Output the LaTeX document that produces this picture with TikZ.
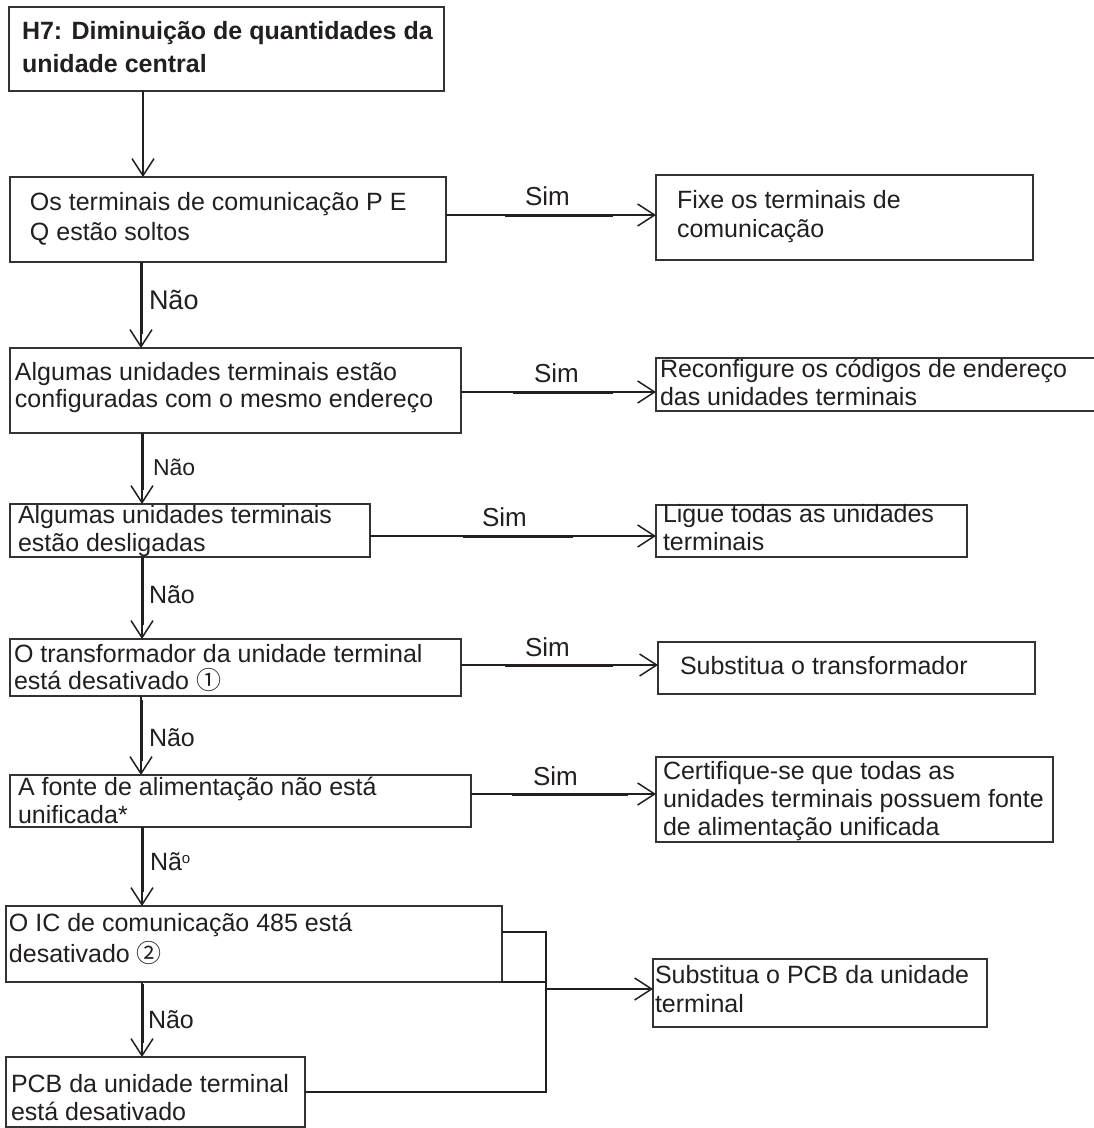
\documentclass[tikz,border=0pt]{standalone}
\usepackage{fontspec}
\setmainfont{Liberation Sans}
\newfontfamily\cjkf{Noto Sans CJK SC}
\usetikzlibrary{arrows.meta}
\definecolor{ink}{HTML}{231F20}
\definecolor{edgec}{HTML}{333333}
\tikzset{
 box/.style={draw=edgec, line width=1.4pt, rectangle, inner sep=0pt, outer sep=0pt, anchor=north west},
 txt/.style={anchor=base west, inner sep=0pt, outer sep=0pt, text=ink, font=\fontsize{25}{29}\selectfont},
 btxt/.style={anchor=base west, inner sep=0pt, outer sep=0pt, text=ink, font=\fontsize{25}{29}\selectfont\bfseries},
 conn/.style={draw=ink, line width=1.5pt, -{Straight Barb[length=17pt,width=22pt,line width=1.5pt]}},
 plainline/.style={draw=ink, line width=1.5pt},
 heavy/.style={draw=ink, line width=3pt},
 lbl/.style={anchor=west, inner sep=0pt, outer sep=0pt, text=ink, font=\fontsize{25}{29}\selectfont},
 simlbl/.style={anchor=west, inner sep=0pt, outer sep=0pt, text=ink, font=\fontsize{26}{30}\selectfont},
}
\newcommand\mkbox[5]{\node[box, minimum width={(#4-#2)*1pt}, minimum height={(#5-#3)*1pt}] (#1) at (#2,#3) {};}
\begin{document}
\begin{tikzpicture}[x=1pt,y=-1pt]
\useasboundingbox (0,0) rectangle (1094,1128);
\fill[white] (0,0) rectangle (1094,1128);

% left column boxes
\mkbox{B1}{9}{7}{444}{91}
\mkbox{B2}{10}{177}{446}{262}
\mkbox{B3}{10}{348}{461}{433}
\mkbox{B4}{10}{504}{370}{557}
\mkbox{B5}{10}{639}{461}{696}
\mkbox{B6}{10}{775}{471}{827}
\mkbox{B7}{6}{906}{502}{982}
\mkbox{B8}{6}{1057}{305}{1127}
% right column boxes
\mkbox{R1}{656}{175}{1033}{260}
\mkbox{R2}{656}{358}{1097}{411}
\mkbox{R3}{656}{505}{967}{557}
\mkbox{R4}{658}{642}{1035}{694}
\mkbox{R5}{656}{757}{1053}{842}
\mkbox{R6}{653}{959}{987}{1027}

% texts
\node[btxt] (B1a) at (22,39) {H7: Diminuição de quantidades da};
\node[btxt] (B1b) at (22,72) {unidade central};
\node[txt] (B2a) at (30,210) {Os terminais de comunicação P E};
\node[txt] (B2b) at (30,240) {Q estão soltos};
\node[txt] (B3a) at (15,380) {Algumas unidades terminais estão};
\node[txt] (B3b) at (15,407) {configuradas com o mesmo endereço};
\node[txt] (B4a) at (18,523) {Algumas unidades terminais};
\node[txt] (B4b) at (18,551) {estão desligadas};
\node[txt] (B5a) at (14,662) {O transformador da unidade terminal};
\node[txt] (B5b) at (14,689) {está desativado {\cjkf ①}};
\node[txt] (B6a) at (18,795) {A fonte de alimentação não está};
\node[txt] (B6b) at (18,823) {unificada*};
\node[txt] (B7a) at (9,931) {O IC de comunicação 485 está};
\node[txt] (B7b) at (9,962) {desativado {\cjkf ②}};
\node[txt] (B8a) at (11,1092) {PCB da unidade terminal};
\node[txt] (B8b) at (11,1120) {está desativado};

\node[txt] (R1a) at (677,208) {Fixe os terminais de};
\node[txt] (R1b) at (677,237) {comunicação};
\node[txt] (R2a) at (660,377) {Reconfigure os códigos de endereço};
\node[txt] (R2b) at (660,405) {das unidades terminais};
\node[txt] (R3a) at (663,522) {Ligue todas as unidades};
\node[txt] (R3b) at (663,550) {terminais};
\node[txt] (R4a) at (680,674) {Substitua o transformador};
\node[txt] (R5a) at (663,779) {Certifique-se que todas as};
\node[txt] (R5b) at (663,807) {unidades terminais possuem fonte};
\node[txt] (R5c) at (663,835) {de alimentação unificada};
\node[txt] (R6a) at (655,983) {Substitua o PCB da unidade};
\node[txt] (R6b) at (655,1012) {terminal};

% helper coordinates
\coordinate (v0) at (143,0);
\coordinate (v1) at (141,0);
\coordinate (v2) at (142,0);
\coordinate (h1) at (0,215);
\coordinate (h2) at (0,392);
\coordinate (h3) at (0,536);
\coordinate (h4) at (0,665);
\coordinate (h5) at (0,794);
\coordinate (h7) at (0,932);
\coordinate (j1) at (546,932);
\coordinate (j2) at (546,1092);
\coordinate (j3) at (546,989);

% vertical flow
\draw[conn] (B1.south -| v0) -- (B2.north -| v0);
\draw[heavy] (141,262) -- (141,334);
\draw[conn] (B2.south -| v1) -- (B3.north -| v1);
\draw[heavy] (142,433) -- (142,490);
\draw[conn] (B3.south -| v2) -- (B4.north -| v2);
\draw[heavy] (142,557) -- (142,625);
\draw[conn] (B4.south -| v2) -- (B5.north -| v2);
\draw[heavy] (141,700) -- (141,761);
\draw[conn] (B5.south -| v1) -- (B6.north -| v1);
\draw[heavy] (142,827) -- (142,892);
\draw[conn] (B6.south -| v2) -- (B7.north -| v2);
\draw[heavy] (142,984) -- (142,1043);
\draw[conn] (B7.south -| v2) -- (B8.north -| v2);

\node[lbl, font=\fontsize{27}{31}\selectfont] (N1) at (149,300) {Não};
\node[lbl, font=\fontsize{23}{27}\selectfont] (N2) at (153,467) {Não};
\node[lbl] (N3) at (149,595) {Não};
\node[lbl] (N4) at (149,738) {Não};
\node[lbl] (N5) at (150,862) {Nã\raisebox{7pt}{\fontsize{15}{15}\selectfont o}};
\node[lbl] (N6) at (148,1020) {Não};

% yes branches
\draw[conn] (B2.east |- h1) -- (R1.west |- h1);
\draw[heavy] (505,215) -- (613,215);
\node[simlbl] (S1) at (525,196) {Sim};
\draw[conn] (B3.east |- h2) -- (R2.west |- h2);
\draw[heavy] (513,392) -- (613,392);
\node[simlbl] (S2) at (534,373) {Sim};
\draw[conn] (B4.east |- h3) -- (R3.west |- h3);
\draw[heavy] (463,536) -- (573,536);
\node[simlbl] (S3) at (482,517) {Sim};
\draw[conn] (B5.east |- h4) -- (R4.west |- h4);
\draw[heavy] (505,665) -- (613,665);
\node[simlbl] (S4) at (525,647) {Sim};
\draw[conn] (B6.east |- h5) -- (R5.west |- h5);
\draw[heavy] (512,794) -- (628,794);
\node[simlbl] (S5) at (533,776) {Sim};

% bottom merge
\draw[plainline] (B7.east |- h7) -- (j1) -- (j2) -- (B8.east |- j2);
\draw[plainline] (B7.south east) -- (B7.south east -| j1);
\draw[conn] (j3) -- (R6.west |- j3);
\end{tikzpicture}
\end{document}
